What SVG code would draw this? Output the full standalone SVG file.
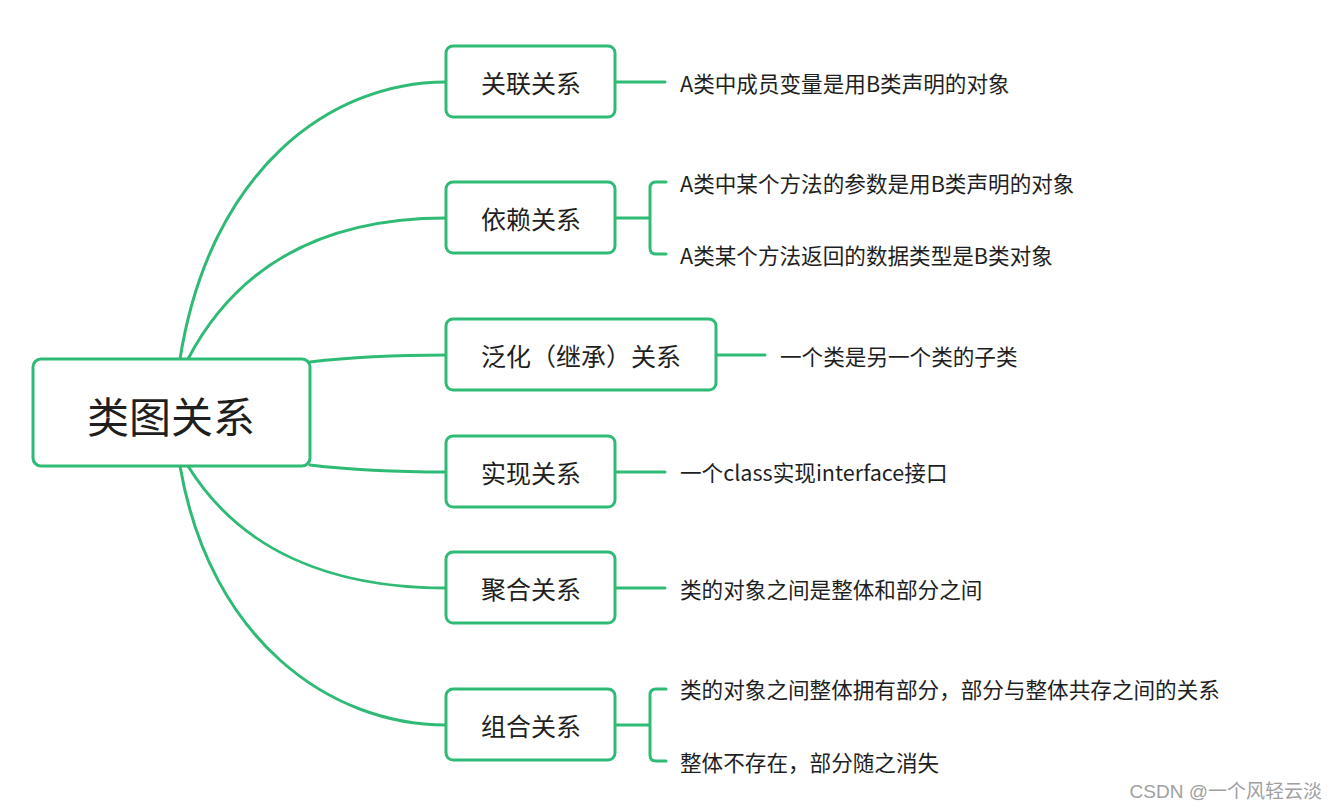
<svg xmlns="http://www.w3.org/2000/svg" width="1339" height="810" viewBox="0 0 1339 810">
<style>
.box{fill:#fff;stroke:#2fbb75;stroke-width:3}
.ln{fill:none;stroke:#2fbb75;stroke-width:3;stroke-linecap:round}
.t{font-family:"Noto Sans CJK SC","Microsoft YaHei",sans-serif;fill:#1f1f1f;dominant-baseline:central}
.nt{font-size:25px;text-anchor:middle}
.lt{font-size:21.6px}
.rt{font-size:42px;text-anchor:middle}
.wm{font-family:"Liberation Sans","Noto Sans CJK SC",sans-serif;font-size:19px;fill:#a0a0a0;text-anchor:end;dominant-baseline:central}
</style>
<rect width="1339" height="810" fill="#fff"/>
<g id="connectors">
<path class="ln" d="M180,359 C210,170 330,82 446,82"/>
<path class="ln" d="M188,359 C240,260 330,218 446,218"/>
<path class="ln" d="M310,362 C360,356 400,355 446,355"/>
<path class="ln" d="M310,465 C360,471 400,472 446,472"/>
<path class="ln" d="M188,466 C240,550 330,588 446,588"/>
<path class="ln" d="M180,466 C210,640 330,725 446,725"/>
<path class="ln" d="M615,82 H665"/>
<path class="ln" d="M615,218 H650 M666,182 H656 Q650,182 650,188 V248 Q650,254 656,254 H666"/>
<path class="ln" d="M716,355 H765"/>
<path class="ln" d="M615,472 H665"/>
<path class="ln" d="M615,588 H665"/>
<path class="ln" d="M615,725 H650 M666,689 H656 Q650,689 650,695 V755 Q650,761 656,761 H666"/>
</g>
<g id="root">
<rect class="box" x="33" y="359" width="277" height="107" rx="8"/>
<text class="t rt" x="171" y="414">类图关系</text>
</g>
<g id="n1">
<rect class="box" x="446" y="46" width="169" height="71" rx="7"/>
<text class="t nt" x="531" y="82">关联关系</text>
</g>
<g id="n2">
<rect class="box" x="446" y="182" width="169" height="71" rx="7"/>
<text class="t nt" x="531" y="218">依赖关系</text>
</g>
<g id="n3">
<rect class="box" x="446" y="319" width="270" height="71" rx="7"/>
<text class="t nt" x="581" y="355">泛化（继承）关系</text>
</g>
<g id="n4">
<rect class="box" x="446" y="436" width="169" height="71" rx="7"/>
<text class="t nt" x="531" y="472">实现关系</text>
</g>
<g id="n5">
<rect class="box" x="446" y="552" width="169" height="71" rx="7"/>
<text class="t nt" x="531" y="588">聚合关系</text>
</g>
<g id="n6">
<rect class="box" x="446" y="689" width="169" height="71" rx="7"/>
<text class="t nt" x="531" y="725">组合关系</text>
</g>
<g id="leaves">
<text class="t lt" x="680" y="82">A类中成员变量是用B类声明的对象</text>
<text class="t lt" x="680" y="182">A类中某个方法的参数是用B类声明的对象</text>
<text class="t lt" x="680" y="254">A类某个方法返回的数据类型是B类对象</text>
<text class="t lt" x="780" y="355">一个类是另一个类的子类</text>
<text class="t lt" x="680" y="471">一个class实现interface接口</text>
<text class="t lt" x="680" y="588">类的对象之间是整体和部分之间</text>
<text class="t lt" x="680" y="688">类的对象之间整体拥有部分，部分与整体共存之间的关系</text>
<text class="t lt" x="680" y="761">整体不存在，部分随之消失</text>
</g>
<text class="wm" x="1322" y="791">CSDN @一个风轻云淡</text>
</svg>
